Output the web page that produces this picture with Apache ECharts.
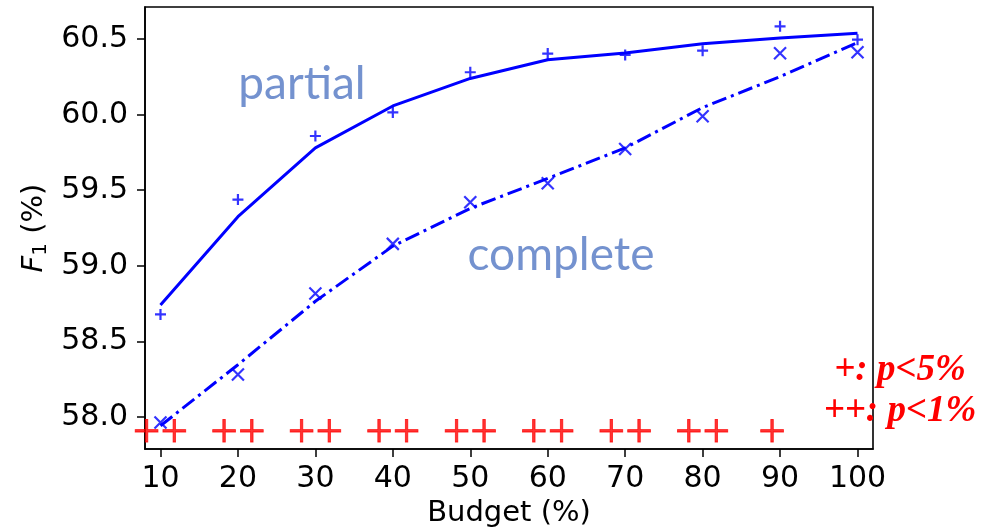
<!DOCTYPE html>
<html>
<head>
<meta charset="utf-8">
<script src="https://cdn.jsdelivr.net/npm/echarts@6.0.0/dist/echarts.min.js"></script>
<style>
html,body{margin:0;padding:0;background:#fff;}
#chart{width:985px;height:529px;}
</style>
</head>
<body>
<div id="chart"></div>
<script>
// ---- data ----
var budget = [10, 20, 30, 40, 50, 60, 70, 80, 90, 100];
var partialFit = [58.74, 59.325, 59.78, 60.058, 60.24, 60.364, 60.408, 60.47, 60.508, 60.54];
var partialRaw = [58.678, 59.438, 59.859, 60.015, 60.281, 60.405, 60.396, 60.424, 60.585, 60.497];
var completeFit = [57.941, 58.345, 58.765, 59.13, 59.38, 59.578, 59.78, 60.047, 60.252, 60.477];
var completeRaw = [57.963, 58.28, 58.817, 59.145, 59.42, 59.546, 59.773, 59.99, 60.407, 60.413];
var significance = ['++', '++', '++', '++', '++', '++', '++', '++', '+', ''];
var sigLevel = 57.915;
var xTicks = [10, 20, 30, 40, 50, 60, 70, 80, 90, 100];
var yTicks = [58.0, 58.5, 59.0, 59.5, 60.0, 60.5];
var xRange = [8, 102];
var yRange = [57.787, 60.713];

function pairs(xs, ys) { return xs.map(function (x, i) { return [x, ys[i]]; }); }

var sigData = [];
budget.forEach(function (x, i) {
  if (significance[i]) {
    var item = { value: [x, sigLevel], name: significance[i] };
    if (significance[i].length === 1) item.label = { offset: [-8, 4] };
    sigData.push(item);
  }
});

var chart = echarts.init(document.getElementById('chart'), null, { renderer: 'canvas' });
var blue = '#0000ff';
var tickFont = { fontFamily: 'DejaVu Sans', fontSize: 30, color: '#000' };

chart.setOption({
  animation: false,
  backgroundColor: '#fff',
  grid: {
    left: 145, top: 7, right: 112, bottom: 80, show: true,
    borderColor: '#000', borderWidth: 1.6, backgroundColor: 'transparent',
    containLabel: false, outerBoundsMode: 'none'
  },
  xAxis: {
    type: 'value', min: xRange[0], max: xRange[1],
    name: 'Budget (%)', nameLocation: 'middle', nameGap: 45,
    nameTextStyle: { fontFamily: 'DejaVu Sans', fontSize: 29, color: '#000' },
    axisLine: { show: true, onZero: false, lineStyle: { color: '#000', width: 1.6 } },
    axisTick: { show: true, length: 8, lineStyle: { color: '#000', width: 1.5 }, customValues: xTicks },
    axisLabel: Object.assign({ margin: 15, customValues: xTicks, formatter: function (v) { return String(v); } }, tickFont),
    splitLine: { show: false }
  },
  yAxis: {
    type: 'value', min: yRange[0], max: yRange[1],
    name: '{i|F}{s|1} (%)', nameLocation: 'middle', nameGap: 89, nameRotate: 90,
    nameTextStyle: {
      fontFamily: 'DejaVu Sans', fontSize: 29, color: '#000',
      rich: {
        i: { fontFamily: 'DejaVu Sans', fontStyle: 'italic', fontSize: 29, color: '#000' },
        s: { fontFamily: 'DejaVu Sans', fontSize: 20, color: '#000', verticalAlign: 'bottom', padding: [12, 0, 0, 0] }
      }
    },
    axisLine: { show: true, onZero: false, lineStyle: { color: '#000', width: 1.6 } },
    axisTick: { show: true, length: 8, lineStyle: { color: '#000', width: 1.5 }, customValues: yTicks },
    axisLabel: Object.assign({ margin: 17, customValues: yTicks, formatter: function (v) { return v.toFixed(1); } }, tickFont),
    splitLine: { show: false }
  },
  series: [
    {
      type: 'line', name: 'partial fit', data: pairs(budget, partialFit),
      showSymbol: false, symbol: 'none', lineStyle: { color: blue, width: 3 }, z: 3
    },
    {
      type: 'scatter', name: 'partial', data: pairs(budget, partialRaw),
      symbol: 'path://M0,6L12,6M6,0L6,12', symbolSize: 11,
      itemStyle: { color: 'rgba(0,0,0,0)', borderColor: blue, borderWidth: 2.2 }, z: 4
    },
    {
      type: 'line', name: 'complete fit', data: pairs(budget, completeFit),
      showSymbol: false, symbol: 'none', lineStyle: { color: blue, width: 3, type: [15, 5, 3, 5] }, z: 3
    },
    {
      type: 'scatter', name: 'complete', data: pairs(budget, completeRaw),
      symbol: 'path://M0,0L12,12M12,0L0,12', symbolSize: 12,
      itemStyle: { color: 'rgba(0,0,0,0)', borderColor: blue, borderWidth: 2.2 }, z: 4
    },
    {
      type: 'scatter', name: 'significance', data: sigData, symbolSize: 0, clip: false,
      label: {
        show: true, position: 'inside', formatter: function (p) { return p.name; },
        fontFamily: 'Liberation Serif', fontSize: 49, color: '#ff0000', offset: [0, 4],
        textBorderColor: '#ff0000', textBorderWidth: 0.8
      },
      z: 5
    }
  ],
  graphic: [
    { type: 'text', x: 302, y: 84, style: { text: 'partial', fontFamily: 'Lato', fontSize: 46, fill: '#7492cf', align: 'center', verticalAlign: 'middle' } },
    { type: 'text', x: 561, y: 255, style: { text: 'complete', fontFamily: 'Lato', fontSize: 46, fill: '#7492cf', align: 'center', verticalAlign: 'middle' } },
    { type: 'text', x: 900, y: 370, style: { text: '+: p<5%', fontFamily: 'Liberation Serif', fontStyle: 'italic', fontWeight: 'bold', fontSize: 37, fill: '#ff0000', align: 'center', verticalAlign: 'middle' } },
    { type: 'text', x: 900, y: 411, style: { text: '++: p<1%', fontFamily: 'Liberation Serif', fontStyle: 'italic', fontWeight: 'bold', fontSize: 37, fill: '#ff0000', align: 'center', verticalAlign: 'middle' } }
  ]
});
</script>
</body>
</html>
